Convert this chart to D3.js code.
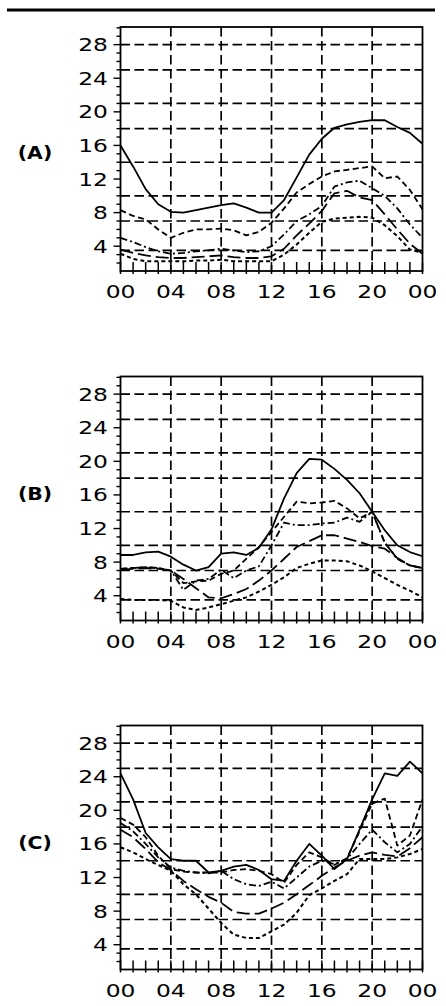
<!DOCTYPE html>
<html><head><meta charset="utf-8">
<script src="https://cdn.jsdelivr.net/npm/d3@7"></script>
<style>body{margin:0;background:#fff}</style>
</head><body><svg id="c" width="446" height="1006"></svg>
<script>
// ---------- data ----------
const hours = [0,1,2,3,4,5,6,7,8,9,10,11,12,13,14,15,16,17,18,19,20,21,22,23,24];
const xTickHours = [0,4,8,12,16,20,24];
const xTickLabels = ["00","04","08","12","16","20","00"];
const yTickValues = [4,8,12,16,20,24,28];
const yTickLabels = ["4","8","12","16","20","24","28"];
const yGridValues = [3.5,7,10,14,18,21,25,28];
const panelLabels = ["(A)","(B)","(C)"];
const seriesStyles = ["solid","dash","dashdot","longdash","shortdash"];

const aSolid     = [16.0,13.5,10.8,9.0,8.1,8.0,8.3,8.6,8.9,9.1,8.6,8.0,8.0,9.5,12.2,14.9,16.8,18.1,18.5,18.8,19.0,19.0,18.2,17.5,16.2];
const aDash      = [8.3,7.6,7.2,6.0,5.0,5.6,6.0,6.0,6.1,5.9,5.3,5.7,6.8,8.5,10.4,11.4,12.3,12.9,13.1,13.3,13.5,12.1,12.3,10.7,8.4];
const aDashDot   = [5.0,4.5,3.9,3.4,3.1,3.2,3.4,3.5,3.7,3.5,3.3,3.4,4.0,5.4,7.0,7.8,8.8,11.1,11.6,11.8,10.9,10.0,8.5,6.6,5.0];
const aLongDash  = [3.6,3.2,2.9,2.7,2.6,2.6,2.7,2.8,2.9,2.7,2.6,2.6,2.8,3.7,5.3,6.7,8.2,10.3,10.6,9.8,9.5,7.8,6.0,4.3,3.1];
const aShortDash = [3.1,2.5,2.2,2.2,2.2,2.2,2.3,2.3,2.4,2.2,2.2,2.2,2.2,3.0,4.2,5.6,6.9,7.3,7.4,7.5,7.4,6.5,5.2,3.6,3.2];

const bSolid     = [8.85,8.85,9.15,9.25,8.65,7.7,7.0,7.4,9.0,9.15,8.85,9.7,11.9,15.6,18.6,20.3,20.2,19.1,17.8,16.2,14.0,11.8,10.0,9.2,8.7];
const bDash      = [7.2,7.3,7.4,7.3,7.0,5.5,5.7,5.8,6.6,7.0,8.4,9.8,11.6,13.4,15.2,15.0,15.1,15.3,14.4,13.2,14.0,10.3,8.4,7.6,7.3];
const bDashDot   = [7.2,7.3,7.4,7.3,7.0,4.7,5.8,6.0,7.1,6.1,7.0,7.5,10.0,12.7,12.4,12.4,12.6,12.7,13.3,12.8,14.0,10.3,8.4,7.6,7.3];
const bLongDash  = [7.1,7.2,7.3,7.2,7.0,6.0,4.9,3.8,3.7,4.2,4.8,5.8,7.0,8.4,9.8,10.5,11.2,11.2,10.8,10.4,9.9,9.6,8.5,7.6,7.3];
const bShortDash = [3.6,3.5,3.5,3.5,3.4,2.6,2.3,2.6,3.0,3.4,3.8,4.5,5.3,6.2,7.3,7.8,8.2,8.2,8.1,7.6,6.9,6.1,5.3,4.6,3.8];

const cSolid     = [24.4,21.3,17.3,15.6,14.2,14.0,14.0,12.6,12.8,13.3,13.5,12.9,11.8,11.6,14.0,16.0,14.6,13.0,14.2,17.7,21.3,24.4,24.1,25.8,24.4];
const cDash      = [19.1,18.3,16.8,14.6,13.0,12.7,12.6,12.6,12.6,12.9,13.0,12.8,12.4,11.4,13.5,15.0,14.4,13.5,14.3,17.5,20.8,21.4,15.8,17.0,21.3];
const cDashDot   = [18.5,17.5,16.0,14.4,13.2,12.8,12.6,12.5,12.8,11.8,11.2,11.0,11.5,10.7,12.0,13.3,14.0,13.6,14.2,16.0,17.7,16.2,15.0,16.0,18.1];
const cLongDash  = [17.7,16.8,15.4,13.8,12.9,11.6,10.6,9.7,9.0,7.9,7.7,7.7,8.3,9.0,10.0,11.1,12.2,13.2,14.0,14.6,15.0,14.7,14.5,15.5,16.8];
const cShortDash = [15.6,15.0,14.2,13.5,12.8,11.2,10.0,8.3,6.6,5.2,4.8,4.8,5.6,6.4,7.8,9.9,10.7,11.6,12.4,14.2,14.2,14.2,14.4,14.8,15.4];

const panelSeries = [
  [aSolid,aDash,aDashDot,aLongDash,aShortDash],
  [bSolid,bDash,bDashDot,bLongDash,bShortDash],
  [cSolid,cDash,cDashDot,cLongDash,cShortDash]
];

// ---------- layout / style ----------
const dashMap = {solid:null, dash:"6,3.5", dashdot:"7,3,2,3", longdash:"13,5", shortdash:"4,3"};
const panelTops = [27, 376.5, 725.5];
const panelLabelY = [153, 494, 843];
const plotH = 244;
const left = 120.5, right = 422.5;
const FONT = "'DejaVu Sans', sans-serif";

const svg = d3.select("#c");
svg.append("rect").attr("width",446).attr("height",1006).attr("fill","#fff");
svg.append("line").attr("x1",7).attr("x2",435).attr("y1",10).attr("y2",10)
  .attr("stroke","#000").attr("stroke-width",3.2);

const x = d3.scaleLinear().domain([0,24]).range([left,right]);

panelSeries.forEach((series, pi) => {
  const top = panelTops[pi], bottom = top + plotH;
  const y = d3.scaleLinear().domain([1.05,30.1]).range([bottom,top]);
  const g = svg.append("g");

  // grid
  g.selectAll(".hg").data(yGridValues).join("line")
    .attr("x1",left).attr("x2",right).attr("y1",d=>y(d)).attr("y2",d=>y(d))
    .attr("stroke","#000").attr("stroke-width",1.7).attr("stroke-dasharray","9.5,4.5");
  g.selectAll(".vg").data(xTickHours.slice(1,-1)).join("line")
    .attr("x1",d=>x(d)).attr("x2",d=>x(d)).attr("y1",top).attr("y2",bottom)
    .attr("stroke","#000").attr("stroke-width",1.7).attr("stroke-dasharray","9.5,4.5");

  // series
  const line = d3.line().x((d,i)=>x(hours[i])).y(d=>y(d));
  series.forEach((vals, si) => {
    const st = seriesStyles[si];
    g.append("path").datum(vals).attr("d",line)
      .attr("fill","none").attr("stroke","#000")
      .attr("stroke-width", st==="shortdash" ? 2.0 : 1.8)
      .attr("stroke-linejoin","round")
      .attr("stroke-dasharray", dashMap[st]);
  });

  // frame
  g.append("rect").attr("x",left).attr("y",top).attr("width",right-left).attr("height",plotH)
    .attr("fill","none").attr("stroke","#000").attr("stroke-width",1.8);

  // y ticks (every unit, major at labels)
  const yMinor = d3.range(2,31);
  g.selectAll(".yt").data(yMinor).join("line")
    .attr("x1",d=> yTickValues.includes(d) ? left-7 : left-4).attr("x2",left)
    .attr("y1",d=>y(d)).attr("y2",d=>y(d))
    .attr("stroke","#000").attr("stroke-width",1.4);
  // x ticks every hour
  g.selectAll(".xt").data(hours).join("line")
    .attr("x1",d=>x(d)).attr("x2",d=>x(d)).attr("y1",bottom-9).attr("y2",bottom+3)
    .attr("stroke","#000").attr("stroke-width",1.5);

  // y labels
  g.selectAll(".yl").data(yTickValues).join("text")
    .attr("transform",d=>`translate(108,${y(d)+6.5}) scale(1.3,1)`)
    .attr("text-anchor","end").attr("font-family",FONT).attr("font-size",18)
    .text((d,i)=>yTickLabels[i]);
  // x labels
  g.selectAll(".xl").data(xTickHours).join("text")
    .attr("transform",d=>`translate(${x(d)},${bottom+27}) scale(1.3,1)`)
    .attr("text-anchor","middle").attr("font-family",FONT).attr("font-size",18)
    .text((d,i)=>xTickLabels[i]);

  // panel label
  g.append("text").attr("transform",`translate(35,${panelLabelY[pi]+6}) scale(1.2,1)`)
    .attr("text-anchor","middle").attr("font-family",FONT).attr("font-weight","bold")
    .attr("font-size",17).text(panelLabels[pi]);
});
</script></body></html>
